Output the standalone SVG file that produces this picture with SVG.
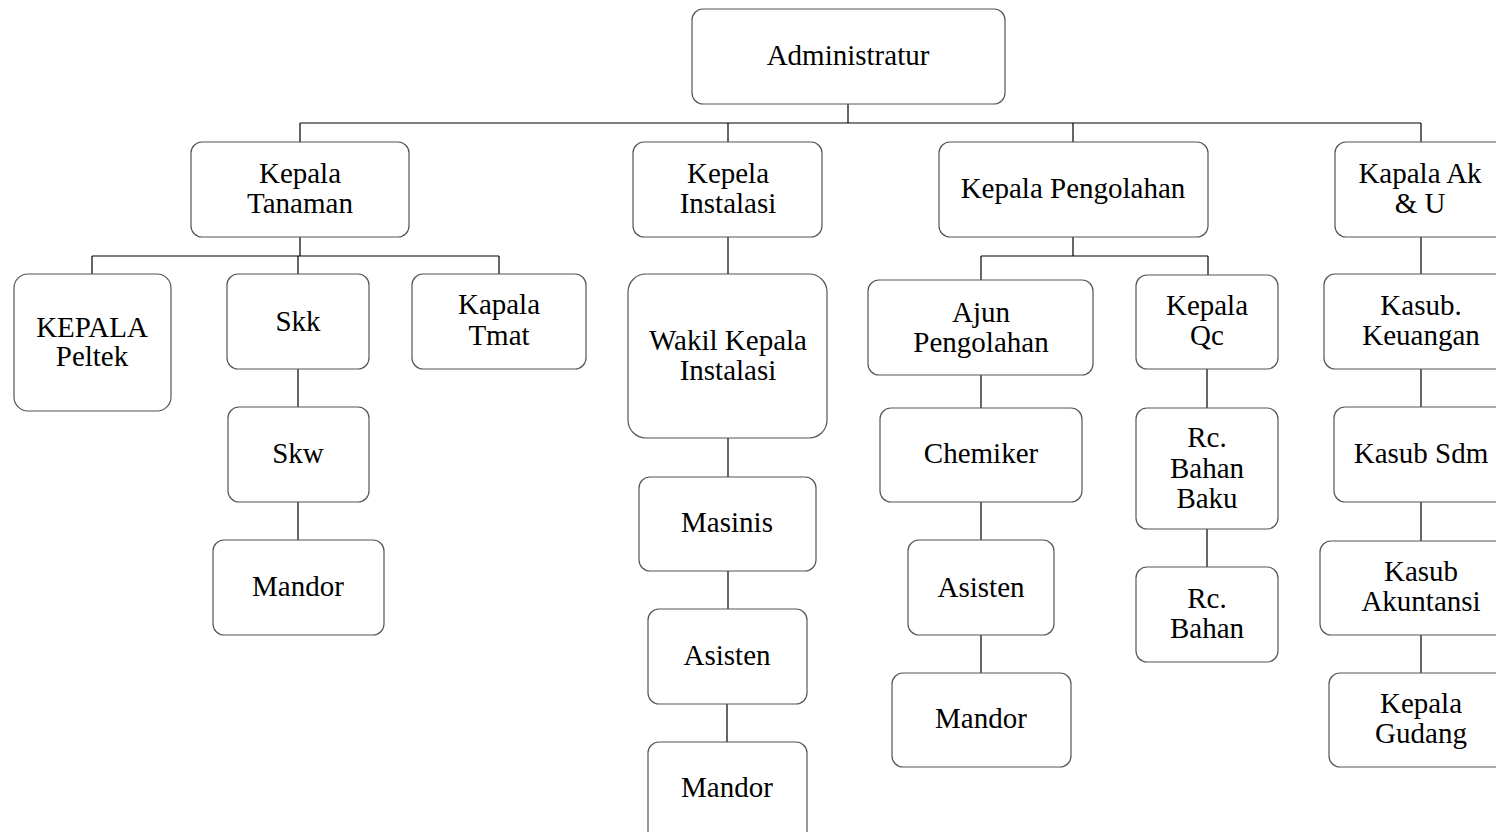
<svg xmlns="http://www.w3.org/2000/svg" width="1496" height="832" viewBox="0 0 1496 832">
<style>
.box{fill:#fff;stroke:#555;stroke-width:1.2}
.t{font-family:"Liberation Serif","Times New Roman",serif;font-size:29px;fill:#000;text-anchor:middle}
.c{fill:none;stroke:#000;stroke-width:1.2}
</style>
<rect width="1496" height="832" fill="#fff"/>
<g id="connectors" class="c">
<path d="M848 104V123M300 123H1421M300 123V142M728 123V142M1073 123V142M1421 123V142"/>
<path d="M300 237V256M92 256H499M92 256V274M298 256V274M499 256V274"/>
<path d="M298 369V407M298 502V540"/>
<path d="M728 237V274M728 438V477M728 571V609M727 704V742"/>
<path d="M1073 237V256M981 256H1208M981 256V280M1208 256V275"/>
<path d="M981 375V408M981 502V540M981 635V673"/>
<path d="M1207 369V408M1207 529V567"/>
<path d="M1421 237V274M1421 369V407M1421 502V541M1421 635V673"/>
</g>
<g id="administratur"><rect class="box" x="692" y="9" width="313" height="95" rx="11"/><text class="t" x="848" y="65">Administratur</text></g>
<g id="kepala-tanaman"><rect class="box" x="191" y="142" width="218" height="95" rx="11"/><text class="t" x="300" y="183">Kepala</text><text class="t" x="300" y="213">Tanaman</text></g>
<g id="kepela-instalasi"><rect class="box" x="633" y="142" width="189" height="95" rx="11"/><text class="t" x="728" y="183">Kepela</text><text class="t" x="728" y="213">Instalasi</text></g>
<g id="kepala-pengolahan"><rect class="box" x="939" y="142" width="269" height="95" rx="11"/><text class="t" x="1073" y="198">Kepala Pengolahan</text></g>
<g id="kapala-ak-u"><rect class="box" x="1335" y="142" width="172" height="95" rx="11"/><text class="t" x="1420" y="183">Kapala Ak</text><text class="t" x="1420" y="213">&amp; U</text></g>
<g id="kepala-peltek"><rect class="box" x="14" y="274" width="157" height="137" rx="14"/><text class="t" x="92" y="337">KEPALA</text><text class="t" x="92" y="366">Peltek</text></g>
<g id="skk"><rect class="box" x="227" y="274" width="142" height="95" rx="11"/><text class="t" x="298" y="331">Skk</text></g>
<g id="kapala-tmat"><rect class="box" x="412" y="274" width="174" height="95" rx="11"/><text class="t" x="499" y="314">Kapala</text><text class="t" x="499" y="345">Tmat</text></g>
<g id="skw"><rect class="box" x="228" y="407" width="141" height="95" rx="11"/><text class="t" x="298" y="463">Skw</text></g>
<g id="mandor-tanaman"><rect class="box" x="213" y="540" width="171" height="95" rx="11"/><text class="t" x="298" y="596">Mandor</text></g>
<g id="wakil-kepala-instalasi"><rect class="box" x="628" y="274" width="199" height="164" rx="18"/><text class="t" x="728" y="350">Wakil Kepala</text><text class="t" x="728" y="380">Instalasi</text></g>
<g id="masinis"><rect class="box" x="639" y="477" width="177" height="94" rx="11"/><text class="t" x="727" y="532">Masinis</text></g>
<g id="asisten-instalasi"><rect class="box" x="648" y="609" width="159" height="95" rx="11"/><text class="t" x="727" y="665">Asisten</text></g>
<g id="mandor-instalasi"><rect class="box" x="648" y="742" width="159" height="100" rx="11"/><text class="t" x="727" y="797">Mandor</text></g>
<g id="ajun-pengolahan"><rect class="box" x="868" y="280" width="225" height="95" rx="11"/><text class="t" x="981" y="322">Ajun</text><text class="t" x="981" y="352">Pengolahan</text></g>
<g id="kepala-qc"><rect class="box" x="1136" y="275" width="142" height="94" rx="11"/><text class="t" x="1207" y="315">Kepala</text><text class="t" x="1207" y="345">Qc</text></g>
<g id="chemiker"><rect class="box" x="880" y="408" width="202" height="94" rx="11"/><text class="t" x="981" y="463">Chemiker</text></g>
<g id="asisten-pengolahan"><rect class="box" x="908" y="540" width="146" height="95" rx="11"/><text class="t" x="981" y="597">Asisten</text></g>
<g id="mandor-pengolahan"><rect class="box" x="892" y="673" width="179" height="94" rx="11"/><text class="t" x="981" y="728">Mandor</text></g>
<g id="rc-bahan-baku"><rect class="box" x="1136" y="408" width="142" height="121" rx="11"/><text class="t" x="1207" y="447">Rc.</text><text class="t" x="1207" y="478">Bahan</text><text class="t" x="1207" y="508">Baku</text></g>
<g id="rc-bahan"><rect class="box" x="1136" y="567" width="142" height="95" rx="11"/><text class="t" x="1207" y="608">Rc.</text><text class="t" x="1207" y="638">Bahan</text></g>
<g id="kasub-keuangan"><rect class="box" x="1324" y="274" width="194" height="95" rx="11"/><text class="t" x="1421" y="315">Kasub.</text><text class="t" x="1421" y="345">Keuangan</text></g>
<g id="kasub-sdm"><rect class="box" x="1334" y="407" width="174" height="95" rx="11"/><text class="t" x="1421" y="463">Kasub Sdm</text></g>
<g id="kasub-akuntansi"><rect class="box" x="1320" y="541" width="202" height="94" rx="11"/><text class="t" x="1421" y="581">Kasub</text><text class="t" x="1421" y="611">Akuntansi</text></g>
<g id="kepala-gudang"><rect class="box" x="1329" y="673" width="184" height="94" rx="11"/><text class="t" x="1421" y="713">Kepala</text><text class="t" x="1421" y="743">Gudang</text></g>
</svg>
